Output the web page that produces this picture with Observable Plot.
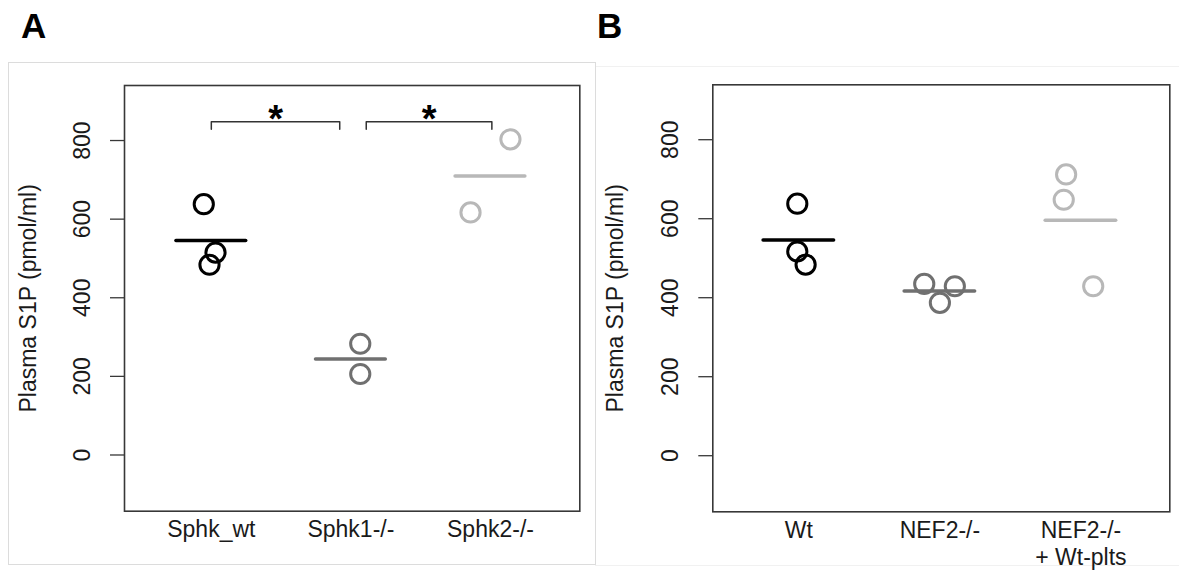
<!DOCTYPE html>
<html>
<head>
<meta charset="utf-8">
<script src="https://cdn.jsdelivr.net/npm/d3@7"></script>
<script src="https://cdn.jsdelivr.net/npm/@observablehq/plot@0.6"></script>
<style>
  body { margin: 0; background: #fff; width: 1179px; height: 588px; position: relative; overflow: hidden;
         font-family: "Liberation Sans", Arial, sans-serif; }
  .box { position: absolute; box-sizing: border-box; }
  #boxA { left: 8px; top: 62px; width: 588px; height: 503px; border: 1px solid #dcdcdc; }
  #boxB { left: 595px; top: 66px; width: 600px; height: 500px; border: 1px solid #f1f1f1; }
  .tag { position: absolute; font-weight: bold; font-size: 35px; line-height: 1; color: #000; }
  .chart { position: absolute; top: 0; }
  .chart svg { overflow: visible; }
</style>
</head>
<body>
<div id="boxB" class="box"></div>
<div id="boxA" class="box"></div>
<div class="tag" style="left:21px; top:8px;">A</div>
<div class="tag" style="left:597px; top:8px;">B</div>
<div id="chartA" class="chart" style="left:0px;"></div>
<div id="chartB" class="chart" style="left:590px;"></div>
<script>
// Plasma S1P (pmol/ml) per mouse, grouped by genotype.
const groupsA = ["Sphk_wt", "Sphk1-/-", "Sphk2-/-"];
const valuesA = [[638, 515, 484], [283, 206], [803, 617]];
const jitterA = [[-0.054, 0.030, -0.013], [0.067, 0.067], [0.143, -0.143]];

const groupsB = ["Wt", "NEF2-/-", "NEF2-/-\n+ Wt-plts"];
const valuesB = [[638, 517, 484], [435, 429, 387], [712, 648, 429]];
const jitterB = [[-0.011, -0.011, 0.048], [-0.111, 0.106, 0.0], [-0.105, -0.122, 0.087]];

const groupColors = ["#000000", "#707070", "#b8b8b8"];
const yTicks = [0, 200, 400, 600, 800];
const yLabel = "Plasma S1P (pmol/ml)";

// Significance comparisons in panel A (between group positions)
const comparisonsA = [
  {from: 1, to: 1.92, label: "*"},
  {from: 2.11, to: 3.01, label: "*"}
];

const FONT = "Liberation Sans, Arial, sans-serif";
const INK = "#1a1a1a";

function panel({groups, values, jitter, xDomain, yDomain, width, margins, comparisons = [], labelDx}) {
  const points = values.flatMap((vals, gi) =>
    vals.map((v, k) => ({gi, x: gi + 1 + jitter[gi][k], value: v, color: groupColors[gi]})));
  const means = values.map((vals, gi) => ({gi, pos: gi + 1, mean: d3.mean(vals), color: groupColors[gi]}));
  const cats = groups.map((g, i) => ({name: g, pos: i + 1}));

  const bracketY = 848, bracketDrop = 19, starY = 878;
  const bracketPts = comparisons.flatMap((c, ci) => [
    {ci, x: c.from, y: bracketY - bracketDrop},
    {ci, x: c.from, y: bracketY},
    {ci, x: c.to, y: bracketY},
    {ci, x: c.to, y: bracketY - bracketDrop}
  ]);

  return Plot.plot({
    width,
    height: 588,
    marginLeft: margins[0],
    marginRight: margins[1],
    marginTop: margins[2],
    marginBottom: margins[3],
    style: {fontFamily: FONT, background: "transparent", color: INK},
    x: {type: "linear", domain: xDomain, axis: null},
    y: {type: "linear", domain: yDomain, axis: null},
    color: {type: "identity"},
    marks: [
      Plot.frame({stroke: "#383838", strokeWidth: 1.6}),
      Plot.axisY({ticks: yTicks, tickSize: 14, tickFormat: () => "", stroke: "#383838", strokeWidth: 1.3}),
      Plot.text(yTicks, {y: d => d, text: d => String(d), frameAnchor: "left", dx: -42.3, rotate: -90,
        textAnchor: "middle", lineAnchor: "middle", fontSize: 23, fill: INK}),
      Plot.text([yLabel], {frameAnchor: "left", dx: labelDx, rotate: -90, textAnchor: "middle",
        lineAnchor: "middle", fontSize: 23, fill: INK}),
      Plot.text(cats, {x: "pos", text: "name", frameAnchor: "bottom", lineAnchor: "top", dy: 6.5,
        fontSize: 23, lineHeight: 1.2, fill: INK}),
      Plot.ruleY(means, {y: "mean", x1: d => d.pos - 0.25, x2: d => d.pos + 0.25, stroke: "color",
        strokeWidth: 3.5, strokeLinecap: "round"}),
      Plot.dot(points, {x: "x", y: "value", r: 9.6, stroke: "color", strokeWidth: 3, fill: "none"}),
      Plot.line(bracketPts, {x: "x", y: "y", z: "ci", stroke: "#333", strokeWidth: 1.5}),
      Plot.text(comparisons, {x: d => (d.from + d.to) / 2, y: starY, text: "label", dy: 10,
        fontSize: 38, fontWeight: "bold", fill: "#000"})
    ]
  });
}

document.getElementById("chartA").append(panel({
  groups: groupsA, values: valuesA, jitter: jitterA,
  xDomain: [0.378, 3.64], yDomain: [-143, 940],
  width: 590, margins: [124, 10.7, 85, 77.3],
  comparisons: comparisonsA, labelDx: -96
}));

document.getElementById("chartB").append(panel({
  groups: groupsB, values: valuesB, jitter: jitterB,
  xDomain: [0.39, 3.63], yDomain: [-142, 939],
  width: 589, margins: [122.3, 9.7, 84.3, 76.7],
  labelDx: -97
}));
</script>
</body>
</html>
